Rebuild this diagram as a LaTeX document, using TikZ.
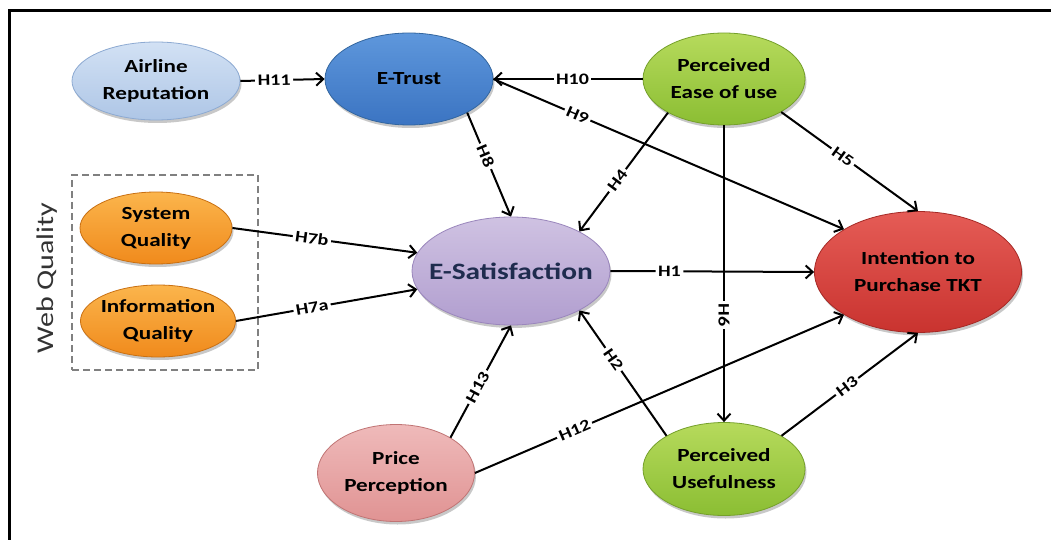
\documentclass[tikz,border=0pt]{standalone}
\usepackage{fontspec}
\setmainfont{Carlito}[FakeStretch=1.25]
\usetikzlibrary{shapes.geometric,arrows.meta,shadows}

\definecolor{arTop}{HTML}{D2E1F4}
\definecolor{arBot}{HTML}{AEC6E6}
\definecolor{arLine}{HTML}{8DAAD2}
\definecolor{etTop}{HTML}{5E97DC}
\definecolor{etBot}{HTML}{3B74C2}
\definecolor{etLine}{HTML}{33669F}
\definecolor{grTop}{HTML}{B6DA5C}
\definecolor{grBot}{HTML}{8BBE33}
\definecolor{grLine}{HTML}{75A02B}
\definecolor{orTop}{HTML}{FBB54C}
\definecolor{orBot}{HTML}{F08A1C}
\definecolor{orLine}{HTML}{C97012}
\definecolor{esTop}{HTML}{CFC2E2}
\definecolor{esBot}{HTML}{B19ECF}
\definecolor{esLine}{HTML}{9A86BC}
\definecolor{esText}{HTML}{1F2C4E}
\definecolor{inTop}{HTML}{E55C56}
\definecolor{inBot}{HTML}{C9332F}
\definecolor{inLine}{HTML}{A52925}
\definecolor{ppTop}{HTML}{EFBABA}
\definecolor{ppBot}{HTML}{E09393}
\definecolor{ppLine}{HTML}{C07474}

\begin{document}
\begin{tikzpicture}[x=1pt,y=-1pt,
  oval/.style={ellipse, inner sep=-12pt, align=center, line width=0.8pt,
    font=\fontsize{18.5}{27}\selectfont\bfseries,
    drop shadow={shadow xshift=1.5pt, shadow yshift=-3pt, opacity=0.3, fill=black!70}},
  paint/.style n args={3}{top color=#1, bottom color=#2, draw=#3},
  hyp/.style={fill=white, inner sep=2.5pt, sloped,
    font=\fontsize{16}{16}\selectfont\bfseries},
  link/.style={line width=2pt, -{Straight Barb[length=7pt,width=13pt]}},
  groupbox/.style={draw=gray, line width=1.8pt, dash pattern=on 7pt off 4pt}
]
\useasboundingbox (0,0) rectangle (1051,540);
\fill[white] (0,0) rectangle (1051,540);

% outer frame (top and left edges)
\draw[line width=2.5pt] (9.5,541) -- (9.5,10.5) -- (1052,10.5);

% web quality group
\node[groupbox, minimum width=186, minimum height=195] (web) at (165,272.5) {};
\node[rotate=90, font=\fontsize{24}{24}\selectfont, text=black!80] (wq) at (47,278) {Web Quality};

% constructs
\node[oval, paint={arTop}{arBot}{arLine}, minimum width=168, minimum height=78] (ar) at (156,81) {Airline\\Reputation};
\node[oval, paint={etTop}{etBot}{etLine}, minimum width=168, minimum height=92] (et) at (409,79) {E-Trust};
\node[oval, paint={grTop}{grBot}{grLine}, minimum width=162, minimum height=92] (pe) at (724,79) {Perceived\\Ease of use};
\node[oval, paint={orTop}{orBot}{orLine}, minimum width=152, minimum height=72] (sq) at (156,228) {System\\Quality};
\node[oval, paint={orTop}{orBot}{orLine}, minimum width=155, minimum height=72] (iq) at (158,321) {Information\\Quality};
\node[oval, paint={esTop}{esBot}{esLine}, minimum width=198, minimum height=108, text=esText,
  font=\fontsize{23.5}{28}\selectfont\bfseries] (es) at (511,271) {E-Satisfaction};
\node[oval, paint={inTop}{inBot}{inLine}, minimum width=207, minimum height=121] (in) at (918,272) {Intention to\\Purchase TKT};
\node[oval, paint={ppTop}{ppBot}{ppLine}, minimum width=157, minimum height=97] (pp) at (396,473) {Price\\Perception};
\node[oval, paint={grTop}{grBot}{grLine}, minimum width=162, minimum height=93] (pu) at (724,469) {Perceived\\Usefulness};

% hypotheses
\draw[link] (ar.east) -- node[hyp, pos=0.4] {H11} (et.west);
\draw[link] (pe.west) -- node[hyp, pos=0.47] {H10} (et.east);
\draw[link] (et.east) -- node[hyp, pos=0.24] {H9} (in.150);
\draw[link] (et.-30) -- node[hyp, pos=0.42] {H8} (es.90);
\draw[link] (pe.211) -- node[hyp, pos=0.57] {H4} (es.30);
\draw[link] (pe.-30) -- node[hyp, pos=0.45] {H5} (in.90);
\draw[link] (pe.south) -- node[hyp, pos=0.64] {H6} (pu.north);
\draw[link] (es.east) -- node[hyp, pos=0.29] {H1} (in.west);
\draw[link] (pu.150) -- node[hyp, pos=0.61] {H2} (es.-30);
\draw[link] (pu.30) -- node[hyp, pos=0.48] {H3} (in.south);
\draw[link] (pp.33) -- node[hyp, pos=0.45] {H13} (es.south);
\draw[link] (pp.east) -- node[hyp, pos=0.27] {H12} (in.210);
\draw[link] (sq.east) -- node[hyp, pos=0.43] {H7b} (es.169);
\draw[link] (iq.east) -- node[hyp, pos=0.42] {H7a} (es.191);
\end{tikzpicture}
\end{document}
